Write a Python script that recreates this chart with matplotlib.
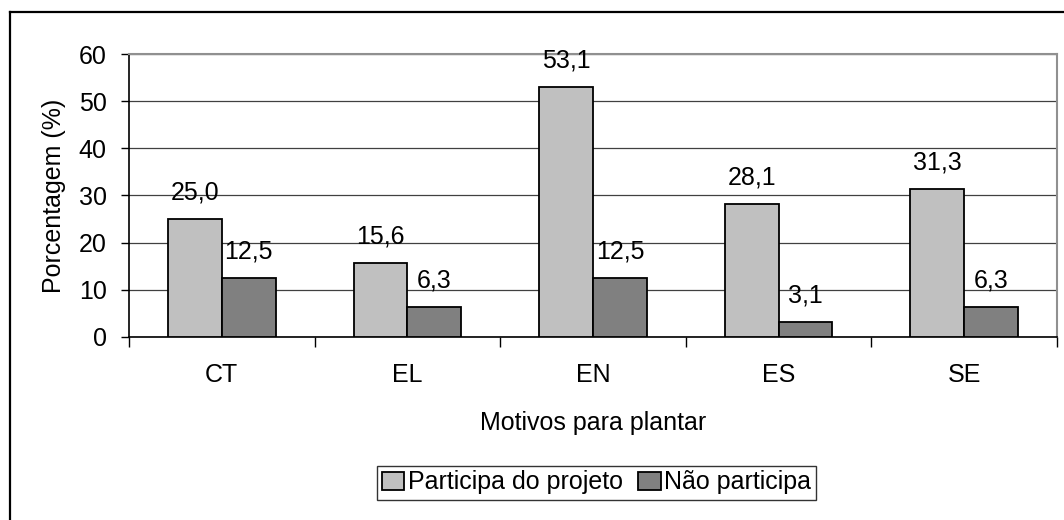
import numpy as np
import matplotlib.pyplot as plt
from matplotlib.lines import Line2D

plt.rcParams['font.family'] = ['Liberation Sans', 'DejaVu Sans']
FS = 18

# reasons for planting and share of respondents in each group
motivos = ['CT', 'EL', 'EN', 'ES', 'SE']
participa = [25.0, 15.6, 53.1, 28.1, 31.3]
nao_participa = [12.5, 6.3, 12.5, 3.1, 6.3]
yticks = [0, 10, 20, 30, 40, 50, 60]

fig = plt.figure(figsize=(10.64, 5.2), dpi=100)
ax = fig.add_axes([0.1212, 0.3525, 0.8722, 0.5431])

x = np.arange(len(motivos))
w = 0.29
b1 = ax.bar(x - w / 2, participa, w, color='#c0c0c0', edgecolor='black', linewidth=1.3,
            label='Participa do projeto', zorder=3)
b2 = ax.bar(x + w / 2, nao_participa, w, color='#808080', edgecolor='black', linewidth=1.3,
            label='Não participa', zorder=3)

# value labels, decimal comma
for bars, vals in [(b1, participa), (b2, nao_participa)]:
    for r, v in zip(bars, vals):
        ax.annotate(f'{v:.1f}'.replace('.', ','), (r.get_x() + r.get_width() / 2, v),
                    xytext=(0, 14), textcoords='offset points', ha='center', va='baseline',
                    fontsize=FS)

ax.set_xlim(-0.5, len(motivos) - 0.5)
ax.set_ylim(0, 60)
ax.set_yticks(yticks)
ax.yaxis.grid(True, color='#404040', linewidth=0.9, zorder=0)
ax.set_axisbelow(True)

# ticks at the group boundaries, labels at the group centres
ax.set_xticks(np.arange(-0.5, len(motivos)), labels=[''] * (len(motivos) + 1))
ax.set_xticks(x, labels=motivos, minor=True)
ax.tick_params(axis='x', which='major', length=7, width=1, direction='out')
ax.tick_params(axis='x', which='minor', length=0, pad=19, labelsize=FS)
ax.tick_params(axis='y', length=6, width=1, direction='out', pad=10, labelsize=FS)

for s in ['left', 'bottom']:
    ax.spines[s].set_color('black')
    ax.spines[s].set_linewidth(1.2)
for s in ['top', 'right']:
    ax.spines[s].set_color('#909090')
    ax.spines[s].set_linewidth(1.5)

ax.set_ylabel('Porcentagem (%)', fontsize=FS, labelpad=9)
ax.set_xlabel('Motivos para plantar', fontsize=FS, labelpad=17)

fig.legend(handles=[b1, b2], loc='center', bbox_to_anchor=(596.5 / 1064, 1 - 482.5 / 520),
           ncol=2, fontsize=FS, frameon=True, fancybox=False, edgecolor='black',
           handlelength=0.9, handleheight=0.75, handletextpad=0.15, columnspacing=0.6,
           borderpad=0.2, borderaxespad=0)

# outer chart frame (left and top edges)
fig.add_artist(Line2D([10 / 1064, 10 / 1064], [0, 1 - 12 / 520], color='black', linewidth=1.6))
fig.add_artist(Line2D([10 / 1064, 1], [1 - 12 / 520, 1 - 12 / 520], color='black', linewidth=1.6))

fig.savefig('out.png', dpi=100)
